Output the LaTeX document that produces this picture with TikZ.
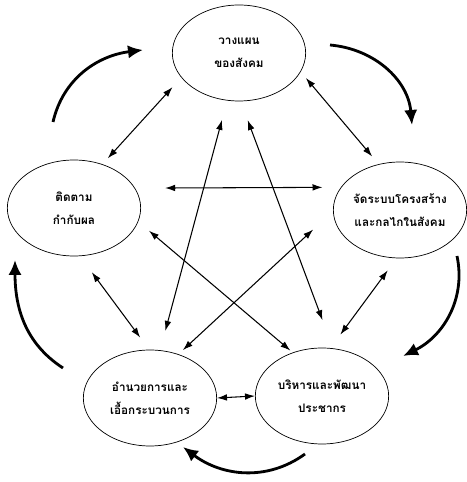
\documentclass[tikz,border=0pt]{standalone}
\usepackage{fontspec}
\newfontfamily\thaifont[Script=Thai]{Loma}
\usetikzlibrary{shapes.geometric,arrows.meta}

\begin{document}
\begin{tikzpicture}
    % Define styles
    \tikzstyle{stage} = [draw, ellipse, line width=0.6pt, minimum width=4cm, minimum height=2.88cm, inner xsep=-5mm, inner ysep=0pt, align=center, font=\thaifont\bfseries\fontsize{10}{20}\selectfont]
    \tikzstyle{link} = [{Latex[length=3mm,width=2mm]}-{Latex[length=3mm,width=2mm]}, line width=0.9pt]
    \tikzstyle{flow} = [-{Latex[length=4.5mm,width=4mm]}, line width=2.4pt]

    \useasboundingbox (0,0) rectangle (14.01,14.46);

    % Stages of the cycle
    \node[stage] (plan) at (7.17,12.87) {วางแผน\\ของสังคม};
    \node[stage] (organize) at (12.0,8.16) {จัดระบบโครงสร้าง\\และกลไกในสังคม};
    \node[stage] (develop) at (9.66,2.58) {บริหารและพัฒนา\\ประชากร};
    \node[stage] (facilitate) at (4.50,2.52) {อำนวยการและ\\เอื้อกระบวนการ};
    \node[stage] (monitor) at (2.22,8.22) {ติดตาม\\กำกับผล};

    % Two-way links between stages
    \draw[link, shorten <=0.39cm, shorten >=0.24cm] (plan.203) -- (monitor.57);
    \draw[link, shorten <=0.24cm, shorten >=0.30cm] (plan.343) -- (organize.115.5);
    \draw[link, shorten <=0.6cm, shorten >=0.6cm] (plan.256) -- (facilitate.78.5);
    \draw[link, shorten <=0.6cm, shorten >=0.9cm] (plan.272.4) -- (develop.77.4);
    \draw[link, shorten <=0.9cm, shorten >=0.55cm] (monitor.18.2) -- (organize.159.7);
    \draw[link, shorten <=0.42cm, shorten >=0.09cm] (monitor.348.6) -- (develop.124.6);
    \draw[link, shorten <=0.81cm, shorten >=0.18cm] (organize.181.4) -- (facilitate.57.9);
    \draw[link, shorten <=0.6cm, shorten >=0.45cm] (monitor.277.4) -- (facilitate.91.4);
    \draw[link, shorten <=0.45cm, shorten >=0.5cm] (organize.266.3) -- (develop.80.2);
    \draw[link] (facilitate.east) -- (develop.west);

    % Ends of the cycle arrows
    \coordinate (c1s) at (1.59,10.80);
    \coordinate (c1e) at (4.29,12.96);
    \coordinate (c2s) at (9.90,13.11);
    \coordinate (c2e) at (12.36,10.71);
    \coordinate (c3s) at (13.71,6.78);
    \coordinate (c3e) at (12.09,3.78);
    \coordinate (c4s) at (9.15,0.84);
    \coordinate (c4e) at (5.49,1.05);
    \coordinate (c5s) at (1.89,3.42);
    \coordinate (c5e) at (0.45,6.66);

    % Cycle arrows
    \draw[flow] (c1s) to[out=77, in=187] (c1e);
    \draw[flow] (c2s) to[out=-5, in=95] (c2e);
    \draw[flow] (c3s) to[out=-78, in=26] (c3e);
    \draw[flow] (c4s) to[out=216, in=-37] (c4e);
    \draw[flow] (c5s) to[out=147, in=270] (c5e);

\end{tikzpicture}
\end{document}
